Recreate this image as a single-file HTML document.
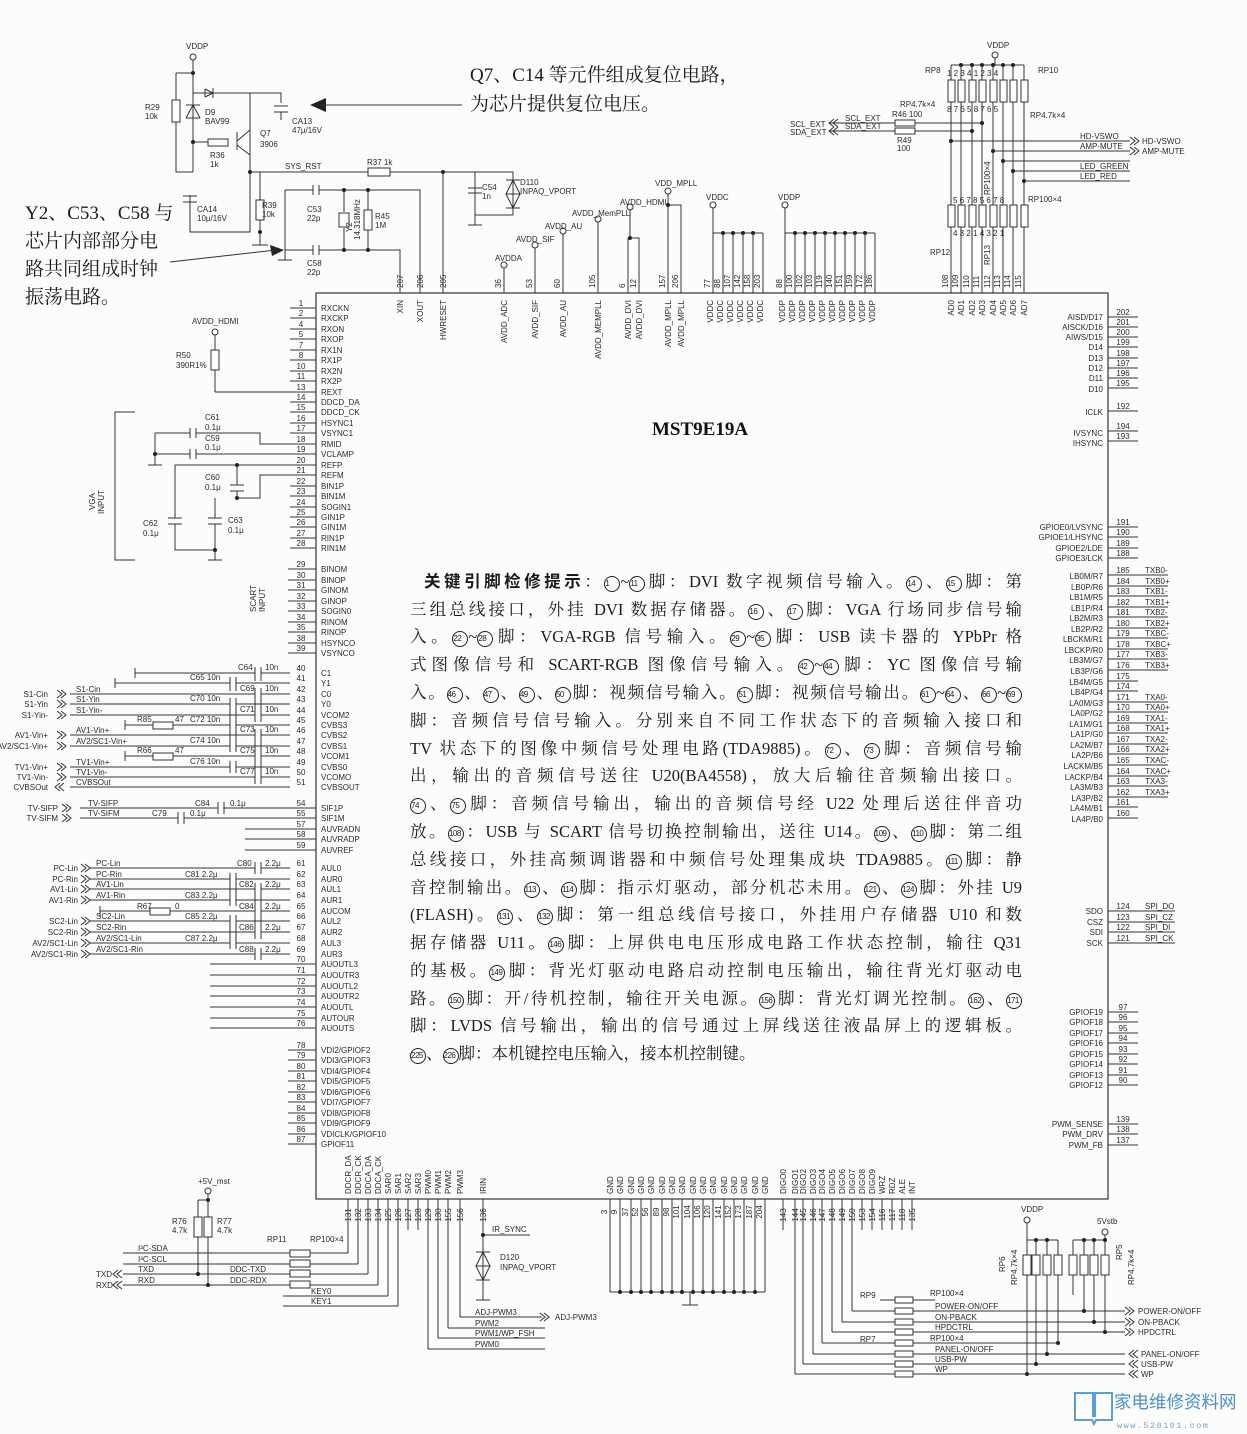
<!DOCTYPE html>
<html><head><meta charset="utf-8">
<style>
html,body{margin:0;padding:0;background:#fcfcfb;}
#w{position:relative;width:1247px;height:1434px;overflow:hidden;background:#fcfcfb;}
svg{position:absolute;left:0;top:0;}
svg text{font-family:"Liberation Sans Narrow","Liberation Sans",sans-serif;font-size:8px;fill:#2a2a2a;}
.p{font-size:8.5px;}
.ln{stroke:#333;stroke-width:1;fill:none;}
.bx{stroke:#333;stroke-width:1;fill:#fcfcfb;}
.dot{fill:#222;}
.para{position:absolute;left:410px;width:612px;font-family:"Liberation Serif","Noto Serif CJK SC",serif;font-size:16.5px;line-height:20px;height:20px;color:#1a1a1a;text-align:justify;text-align-last:justify;white-space:nowrap;}
.para.last{text-align-last:left;}
.c{display:inline-block;width:14px;height:14px;border:1px solid #222;border-radius:50%;font-size:8px;line-height:14px;text-align:center;font-family:"Liberation Sans Narrow","Liberation Sans",sans-serif;vertical-align:1px;letter-spacing:-0.5px;}
.cn{position:absolute;font-family:"Liberation Serif","Noto Serif CJK SC",serif;font-size:19px;color:#1a1a1a;line-height:28px;}
.title{position:absolute;left:652px;top:419px;font-family:"Liberation Serif",serif;font-weight:bold;font-size:19px;color:#111;}
</style></head><body><div id="w">
<svg width="1247" height="1434" viewBox="0 0 1247 1434">
<rect x="316" y="293" width="792" height="906" fill="none" stroke="#333" stroke-width="1.2"/>

<text x="186" y="49">VDDP</text>
<circle cx="193" cy="57" r="3" class="bx"/>
<path class="ln" d="M193 60V172 M176 73H193 M176 73V172H193 M193 93H250V172 M250 93H281V103 M193 142H228 M250 172V232H190V195 M250 172H443 M260 172V245 M252 245H268 M443 172V293"/>
<circle cx="193" cy="73" r="2" class="dot"/><circle cx="193" cy="142" r="2" class="dot"/><circle cx="250" cy="172" r="2" class="dot"/><circle cx="260" cy="232" r="2" class="dot"/><circle cx="443" cy="172" r="2" class="dot"/>
<rect x="172" y="100" width="8" height="22" class="bx"/>
<path class="ln" d="M186 118H200 M193 105L186 118 M193 105L200 118 M186 105H200"/>
<path class="ln" d="M205 89V97 M205 89L213 93L205 97"/><path class="ln" d="M213 88V98"/>
<rect x="208" y="139" width="20" height="7" class="bx"/>
<path class="ln" d="M237 132V150 M237 141L250 130 M237 145L250 155 M274 106H288 M274 112H288"/>
<path class="ln" d="M281 112V120 M183 196H197 M183 202H197 M190 202V206"/>
<rect x="256" y="200" width="8" height="20" class="bx"/>
<rect x="368" y="168" width="22" height="8" class="bx"/>
<text x="145" y="110">R29</text><text x="145" y="119">10k</text>
<text x="205" y="115">D9</text><text x="205" y="124">BAV99</text>
<text x="260" y="136">Q7</text><text x="260" y="147">3906</text>
<text x="292" y="124">CA13</text><text x="292" y="133">47μ/16V</text>
<text x="210" y="158">R36</text><text x="210" y="167">1k</text>
<text x="285" y="169">SYS_RST</text><text x="367" y="165">R37 1k</text>
<text x="197" y="212">CA14</text><text x="197" y="221">10μ/16V</text>
<text x="262" y="208">R39</text><text x="262" y="217">10k</text>
<path class="ln" d="M285 190H313 M319 190H420V293 M285 190V260 M278 260H292 M285 250H313 M319 250H400V293 M313 185V195 M319 185V195 M313 245V255 M319 245V255 M344 190V212 M344 228V250 M368 190V210 M368 230V250"/>
<rect x="339" y="213" width="10" height="14" class="bx"/>
<rect x="364" y="210" width="8" height="20" class="bx"/>
<circle cx="344" cy="190" r="2" class="dot"/><circle cx="368" cy="190" r="2" class="dot"/><circle cx="344" cy="250" r="2" class="dot"/><circle cx="368" cy="250" r="2" class="dot"/>
<text x="307" y="212">C53</text><text x="307" y="221">22p</text>
<text x="307" y="266">C58</text><text x="307" y="275">22p</text>
<text transform="translate(360,240) rotate(-90)">14.318MHz</text><text transform="translate(352,232) rotate(-90)">Y2</text>
<text x="375" y="219">R45</text><text x="375" y="228">1M</text>
<path class="ln" d="M443 172H513V215 M475 172V205 M468 188H482 M468 193H482 M475 215H513 M475 205V225 M468 225H482"/>
<path class="ln" d="M506 180H520 M513 180L506 194L520 194Z M506 208H520 M513 208L506 194 M513 208L520 194"/>
<text x="482" y="190">C54</text><text x="482" y="199">1n</text>
<text x="520" y="185">D110</text><text x="520" y="194">INPAQ_VPORT</text>
<path d="M310 105L326 98V112Z" fill="#222"/><path class="ln" d="M320 105H462" stroke-width="1.4"/>
<path d="M284 250L270 245L272 256Z" fill="#222"/><path class="ln" d="M170 262L276 250" stroke-width="1.4"/>

<g class="ln">
<path d="M504 268V293 M535 248V293 M563 234V293 M598 222V293 M630 210V238 M628 238H639V293 M628 238V293 M668 194V293 M668 205H681V293"/>
<path d="M713 208V233 M713 233H763 M713 233V293 M723 233V293 M733 233V293 M743 233V293 M753 233V293 M763 233V293"/>
<path d="M785 208V233 M785 233H875 M785 233V293 M795 233V293 M805 233V293 M815 233V293 M825 233V293 M835 233V293 M845 233V293 M855 233V293 M865 233V293 M875 233V293"/>
</g>
<g class="bx"><circle cx="504" cy="265" r="3"/><circle cx="535" cy="245" r="3"/><circle cx="563" cy="231" r="3"/><circle cx="598" cy="219" r="3"/><circle cx="630" cy="207" r="3"/><circle cx="668" cy="191" r="3"/><circle cx="713" cy="205" r="3"/><circle cx="785" cy="205" r="3"/></g>
<g class="dot"><circle cx="630" cy="238" r="2"/><circle cx="668" cy="205" r="2"/><circle cx="723" cy="233" r="2"/><circle cx="733" cy="233" r="2"/><circle cx="743" cy="233" r="2"/><circle cx="753" cy="233" r="2"/><circle cx="795" cy="233" r="2"/><circle cx="805" cy="233" r="2"/><circle cx="815" cy="233" r="2"/><circle cx="825" cy="233" r="2"/><circle cx="835" cy="233" r="2"/><circle cx="845" cy="233" r="2"/><circle cx="855" cy="233" r="2"/><circle cx="865" cy="233" r="2"/></g>
<text x="495" y="261">AVDDA</text><text x="516" y="242">AVDD_SIF</text><text x="545" y="229">AVDD_AU</text><text x="572" y="216">AVDD_MemPLL</text><text x="620" y="205">AVDD_HDMI</text><text x="655" y="186">VDD_MPLL</text>
<text x="706" y="200">VDDC</text><text x="778" y="200">VDDP</text>
<g>
<text transform="translate(403,288) rotate(-90)">207</text><text transform="translate(423,288) rotate(-90)">206</text><text transform="translate(446,288) rotate(-90)">205</text>
<text transform="translate(501,288) rotate(-90)">36</text><text transform="translate(532,288) rotate(-90)">53</text><text transform="translate(560,288) rotate(-90)">60</text><text transform="translate(595,288) rotate(-90)">105</text><text transform="translate(625,288) rotate(-90)">6</text><text transform="translate(636,288) rotate(-90)">12</text><text transform="translate(665,288) rotate(-90)">157</text><text transform="translate(678,288) rotate(-90)">206</text>
<text transform="translate(710,288) rotate(-90)">77</text><text transform="translate(720,288) rotate(-90)">88</text><text transform="translate(730,288) rotate(-90)">107</text><text transform="translate(740,288) rotate(-90)">142</text><text transform="translate(750,288) rotate(-90)">158</text><text transform="translate(760,288) rotate(-90)">203</text>
<text transform="translate(782,288) rotate(-90)">88</text><text transform="translate(792,288) rotate(-90)">100</text><text transform="translate(802,288) rotate(-90)">102</text><text transform="translate(812,288) rotate(-90)">103</text><text transform="translate(822,288) rotate(-90)">119</text><text transform="translate(832,288) rotate(-90)">140</text><text transform="translate(842,288) rotate(-90)">151</text><text transform="translate(852,288) rotate(-90)">159</text><text transform="translate(862,288) rotate(-90)">172</text><text transform="translate(872,288) rotate(-90)">186</text>
<text transform="translate(948,288) rotate(-90)">108</text><text transform="translate(958,288) rotate(-90)">109</text><text transform="translate(969,288) rotate(-90)">110</text><text transform="translate(979,288) rotate(-90)">111</text><text transform="translate(990,288) rotate(-90)">112</text><text transform="translate(1000,288) rotate(-90)">113</text><text transform="translate(1010,288) rotate(-90)">114</text><text transform="translate(1021,288) rotate(-90)">115</text>
</g>
<g text-anchor="end">
<text transform="translate(403,300) rotate(-90)">XIN</text><text transform="translate(423,300) rotate(-90)">XOUT</text><text transform="translate(446,300) rotate(-90)">HWRESET</text>
<text transform="translate(507,300) rotate(-90)">AVDD_ADC</text><text transform="translate(538,300) rotate(-90)">AVDD_SIF</text><text transform="translate(566,300) rotate(-90)">AVDD_AU</text><text transform="translate(601,300) rotate(-90)">AVDD_MEMPLL</text><text transform="translate(631,300) rotate(-90)">AVDD_DVI</text><text transform="translate(642,300) rotate(-90)">AVDD_DVI</text><text transform="translate(671,300) rotate(-90)">AVDD_MPLL</text><text transform="translate(684,300) rotate(-90)">AVDD_MPLL</text>
<text transform="translate(713,300) rotate(-90)">VDDC</text><text transform="translate(723,300) rotate(-90)">VDDC</text><text transform="translate(733,300) rotate(-90)">VDDC</text><text transform="translate(743,300) rotate(-90)">VDDC</text><text transform="translate(753,300) rotate(-90)">VDDC</text><text transform="translate(763,300) rotate(-90)">VDDC</text>
<text transform="translate(785,300) rotate(-90)">VDDP</text><text transform="translate(795,300) rotate(-90)">VDDP</text><text transform="translate(805,300) rotate(-90)">VDDP</text><text transform="translate(815,300) rotate(-90)">VDDP</text><text transform="translate(825,300) rotate(-90)">VDDP</text><text transform="translate(835,300) rotate(-90)">VDDP</text><text transform="translate(845,300) rotate(-90)">VDDP</text><text transform="translate(855,300) rotate(-90)">VDDP</text><text transform="translate(865,300) rotate(-90)">VDDP</text><text transform="translate(875,300) rotate(-90)">VDDP</text>
<text transform="translate(954,300) rotate(-90)">AD0</text><text transform="translate(964,300) rotate(-90)">AD1</text><text transform="translate(975,300) rotate(-90)">AD2</text><text transform="translate(985,300) rotate(-90)">AD3</text><text transform="translate(996,300) rotate(-90)">AD4</text><text transform="translate(1006,300) rotate(-90)">AD5</text><text transform="translate(1016,300) rotate(-90)">AD6</text><text transform="translate(1027,300) rotate(-90)">AD7</text>
</g>

<text x="987" y="48">VDDP</text><circle cx="995" cy="55" r="3" class="bx"/>
<path class="ln" d="M995 58V65 M951 65H1024 M951 65V293 M961 65V293 M972 65V293 M982 65V293 M993 65V293 M1003 65V293 M1013 65V293 M1024 65V293"/>
<g class="dot"><circle cx="961" cy="65" r="2"/><circle cx="972" cy="65" r="2"/><circle cx="982" cy="65" r="2"/><circle cx="993" cy="65" r="2"/><circle cx="1003" cy="65" r="2"/><circle cx="1013" cy="65" r="2"/></g>
<g class="bx">
<rect x="948" y="80" width="7" height="22"/><rect x="958" y="80" width="7" height="22"/><rect x="969" y="80" width="7" height="22"/><rect x="979" y="80" width="7" height="22"/><rect x="990" y="80" width="7" height="22"/><rect x="1000" y="80" width="7" height="22"/><rect x="1010" y="80" width="7" height="22"/><rect x="1021" y="80" width="7" height="22"/>
<rect x="948" y="205" width="7" height="22"/><rect x="958" y="205" width="7" height="22"/><rect x="969" y="205" width="7" height="22"/><rect x="979" y="205" width="7" height="22"/><rect x="990" y="205" width="7" height="22"/><rect x="1000" y="205" width="7" height="22"/><rect x="1010" y="205" width="7" height="22"/><rect x="1021" y="205" width="7" height="22"/>
</g>
<text x="925" y="73">RP8</text><text x="1038" y="73">RP10</text>
<text x="900" y="107" font-size="7">RP4.7k×4</text><text x="1030" y="118" font-size="7">RP4.7k×4</text>
<text x="1028" y="202" font-size="7">RP100×4</text><text x="930" y="255">RP12</text>
<text transform="translate(990,195) rotate(-90)" font-size="7">RP100×4</text>
<text transform="translate(990,265) rotate(-90)" font-size="7">RP13</text>
<text x="947" y="76" font-size="6.5">1 2 3 4   1 2 3 4</text><text x="947" y="112" font-size="6.5">8 7 6 5   8 7 6 5</text>
<text x="953" y="203" font-size="6.5">5 6 7 8  5 6 7 8</text><text x="953" y="236" font-size="6.5">4 3 2 1  4 3 2 1</text>
<path class="ln" d="M830 123H982 M830 131H972 M951 141H1130 M993 151H1130 M1003 161H1130 M1013 171H1130 M1024 181H1130"/>
<g class="dot"><circle cx="982" cy="123" r="2"/><circle cx="972" cy="131" r="2"/><circle cx="951" cy="141" r="2"/><circle cx="993" cy="151" r="2"/><circle cx="1003" cy="161" r="2"/><circle cx="1013" cy="171" r="2"/><circle cx="1024" cy="181" r="2"/></g>
<rect x="895" y="120" width="20" height="6" class="bx"/><rect x="895" y="128" width="20" height="6" class="bx"/>
<text x="892" y="117">R46 100</text><text x="897" y="143">R49</text><text x="897" y="151">100</text>
<text x="845" y="121">SCL_EXT</text><text x="845" y="129">SDA_EXT</text>
<text x="790" y="127">SCL_EXT</text><text x="790" y="135">SDA_EXT</text>
<path class="ln" d="M834 119L829 123L834 127 M838 119L833 123L838 127 M834 127L829 131L834 135 M838 127L833 131L838 135"/>
<text x="1080" y="139">HD-VSWO</text><text x="1080" y="149">AMP-MUTE</text><text x="1080" y="169">LED_GREEN</text><text x="1080" y="179">LED_RED</text>
<path class="ln" d="M1130 137L1135 141L1130 145 M1134 137L1139 141L1134 145 M1130 147L1135 151L1130 155 M1134 147L1139 151L1134 155"/>
<text x="1142" y="144">HD-VSWO</text><text x="1142" y="154">AMP-MUTE</text>

<g class="ln">
<path d="M290 308H316 M290 318H316 M290 329H316 M290 339H316 M290 350H316 M290 360H316 M290 371H316 M290 381H316 M215 392H316 M290 402H316 M290 412H316 M290 423H316 M290 433H316 M290 444H316 M290 454H316 M290 465H316 M290 475H316 M290 486H316 M290 496H316 M290 507H316 M290 517H316 M290 527H316 M290 538H316 M290 548H316"/>
<path d="M288 569H316 M288 580H316 M288 590H316 M288 601H316 M288 611H316 M288 622H316 M288 632H316 M288 643H316 M288 653H316"/>
<path d="M288 808H316 M288 818H316 M245 829H316 M245 839H316 M245 850H316"/>
<path d="M210 964H316 M210 975H316 M210 986H316 M210 996H316 M210 1007H316 M210 1018H316 M210 1028H316"/>
<path d="M288 1050H316 M288 1060H316 M288 1071H316 M288 1081H316 M288 1092H316 M288 1102H316 M288 1113H316 M288 1123H316 M288 1134H316 M288 1144H316"/>
</g>
<g text-anchor="middle">
<text x="301" y="306">1</text><text x="301" y="316">2</text><text x="301" y="327">4</text><text x="301" y="337">5</text><text x="301" y="348">7</text><text x="301" y="358">8</text><text x="301" y="369">10</text><text x="301" y="379">11</text><text x="301" y="390">13</text><text x="301" y="400">14</text><text x="301" y="410">15</text><text x="301" y="421">16</text><text x="301" y="431">17</text><text x="301" y="442">18</text><text x="301" y="452">19</text><text x="301" y="463">20</text><text x="301" y="473">21</text><text x="301" y="484">22</text><text x="301" y="494">23</text><text x="301" y="505">24</text><text x="301" y="515">25</text><text x="301" y="525">26</text><text x="301" y="536">27</text><text x="301" y="546">28</text>
<text x="301" y="567">29</text><text x="301" y="578">30</text><text x="301" y="588">31</text><text x="301" y="599">32</text><text x="301" y="609">33</text><text x="301" y="620">34</text><text x="301" y="630">35</text><text x="301" y="641">38</text><text x="301" y="651">39</text>
<text x="301" y="671">40</text><text x="301" y="681">41</text><text x="301" y="692">42</text><text x="301" y="702">43</text><text x="301" y="713">44</text><text x="301" y="723">45</text><text x="301" y="733">46</text><text x="301" y="744">47</text><text x="301" y="754">48</text><text x="301" y="765">49</text><text x="301" y="775">50</text><text x="301" y="785">51</text>
<text x="301" y="806">54</text><text x="301" y="816">55</text><text x="301" y="827">57</text><text x="301" y="837">58</text><text x="301" y="848">59</text>
<text x="301" y="866">61</text><text x="301" y="877">62</text><text x="301" y="887">63</text><text x="301" y="898">64</text><text x="301" y="909">65</text><text x="301" y="919">66</text><text x="301" y="930">67</text><text x="301" y="941">68</text><text x="301" y="952">69</text><text x="301" y="962">70</text><text x="301" y="973">71</text><text x="301" y="984">72</text><text x="301" y="994">73</text><text x="301" y="1005">74</text><text x="301" y="1016">75</text><text x="301" y="1026">76</text>
<text x="301" y="1048">78</text><text x="301" y="1058">79</text><text x="301" y="1069">80</text><text x="301" y="1079">81</text><text x="301" y="1090">82</text><text x="301" y="1100">83</text><text x="301" y="1111">84</text><text x="301" y="1121">85</text><text x="301" y="1132">86</text><text x="301" y="1142">87</text>
</g>
<g class="p">
<text x="321" y="311">RXCKN</text><text x="321" y="321">RXCKP</text><text x="321" y="332">RXON</text><text x="321" y="342">RXOP</text><text x="321" y="353">RX1N</text><text x="321" y="363">RX1P</text><text x="321" y="374">RX2N</text><text x="321" y="384">RX2P</text><text x="321" y="395">REXT</text><text x="321" y="405">DDCD_DA</text><text x="321" y="415">DDCD_CK</text><text x="321" y="426">HSYNC1</text><text x="321" y="436">VSYNC1</text><text x="321" y="447">RMID</text><text x="321" y="457">VCLAMP</text><text x="321" y="468">REFP</text><text x="321" y="478">REFM</text><text x="321" y="489">BIN1P</text><text x="321" y="499">BIN1M</text><text x="321" y="510">SOGIN1</text><text x="321" y="520">GIN1P</text><text x="321" y="530">GIN1M</text><text x="321" y="541">RIN1P</text><text x="321" y="551">RIN1M</text>
<text x="321" y="572">BINOM</text><text x="321" y="583">BINOP</text><text x="321" y="593">GINOM</text><text x="321" y="604">GINOP</text><text x="321" y="614">SOGIN0</text><text x="321" y="625">RINOM</text><text x="321" y="635">RINOP</text><text x="321" y="646">HSYNCO</text><text x="321" y="656">VSYNCO</text>
<text x="321" y="676">C1</text><text x="321" y="686">Y1</text><text x="321" y="697">C0</text><text x="321" y="707">Y0</text><text x="321" y="718">VCOM2</text><text x="321" y="728">CVBS3</text><text x="321" y="738">CVBS2</text><text x="321" y="749">CVBS1</text><text x="321" y="759">VCOM1</text><text x="321" y="770">CVBS0</text><text x="321" y="780">VCOMO</text><text x="321" y="790">CVBSOUT</text>
<text x="321" y="811">SIF1P</text><text x="321" y="821">SIF1M</text><text x="321" y="832">AUVRADN</text><text x="321" y="842">AUVRADP</text><text x="321" y="853">AUVREF</text>
<text x="321" y="871">AUL0</text><text x="321" y="882">AUR0</text><text x="321" y="892">AUL1</text><text x="321" y="903">AUR1</text><text x="321" y="914">AUCOM</text><text x="321" y="924">AUL2</text><text x="321" y="935">AUR2</text><text x="321" y="946">AUL3</text><text x="321" y="957">AUR3</text><text x="321" y="967">AUOUTL3</text><text x="321" y="978">AUOUTR3</text><text x="321" y="989">AUOUTL2</text><text x="321" y="999">AUOUTR2</text><text x="321" y="1010">AUOUTL</text><text x="321" y="1021">AUTOUR</text><text x="321" y="1031">AUOUTS</text>
<text x="321" y="1053">VDI2/GPIOF2</text><text x="321" y="1063">VDI3/GPIOF3</text><text x="321" y="1074">VDI4/GPIOF4</text><text x="321" y="1084">VDI5/GPIOF5</text><text x="321" y="1095">VDI6/GPIOF6</text><text x="321" y="1105">VDI7/GPIOF7</text><text x="321" y="1116">VDI8/GPIOF8</text><text x="321" y="1126">VDI9/GPIOF9</text><text x="321" y="1137">VDICLK/GPIOF10</text><text x="321" y="1147">GPIOF11</text>
</g>

<text x="192" y="324">AVDD_HDMI</text><circle cx="215" cy="332" r="3" class="bx"/>
<path class="ln" d="M215 335V350 M215 370V392"/><rect x="211" y="350" width="8" height="20" class="bx"/>
<text x="176" y="358">R50</text><text x="176" y="368">390R1%</text>
<path class="ln" d="M135 412H115V560H135 M155 433H190 M196 433H260V444H290 M155 433V465 M148 465H162 M155 454H190 M196 454H290 M190 428V438 M196 428V438 M190 449V459 M196 449V459"/>
<circle cx="155" cy="454" r="2" class="dot"/>
<path class="ln" d="M175 465H290 M175 465V518 M168 518H182 M168 524H182 M175 524V550H215 M237 465V485 M230 485H244 M230 491H244 M237 491V498 M237 498H260V475H290 M215 498V518 M208 518H222 M208 524H222 M215 524V560 M208 560H222"/>
<circle cx="237" cy="465" r="2" class="dot"/><circle cx="237" cy="498" r="2" class="dot"/><circle cx="215" cy="550" r="2" class="dot"/>
<text x="205" y="420">C61</text><text x="205" y="430">0.1μ</text><text x="205" y="441">C59</text><text x="205" y="450">0.1μ</text>
<text x="205" y="480">C60</text><text x="205" y="490">0.1μ</text><text x="143" y="526">C62</text><text x="143" y="536">0.1μ</text><text x="228" y="523">C63</text><text x="228" y="533">0.1μ</text>
<text transform="translate(95,510) rotate(-90)">VGA</text><text transform="translate(104,514) rotate(-90)">INPUT</text>
<text transform="translate(256,612) rotate(-90)">SCART</text><text transform="translate(265,612) rotate(-90)">INPUT</text>

<g class="ln">
<path d="M135 668V678 M135 673H255 M261 673H290 M115 678V688 M115 683H230 M236 683H290"/>
<path d="M70 694H255 M261 694H290 M70 704H230 M236 704H290 M70 715H255 M261 715H290 M125 720V730 M125 725H153 M173 725H230 M236 725H290 M70 735H255 M261 735H290 M70 746H230 M236 746H290 M125 751V761 M125 756H153 M173 756H255 M261 756H290 M70 767H230 M236 767H290 M70 777H255 M261 777H290 M70 787H290"/>
<path d="M80 808H218 M224 808H290 M80 818H178 M184 818H290"/>
<path d="M90 868H255 M261 868H290 M90 879H230 M236 879H290 M90 889H255 M261 889H290 M90 900H230 M236 900H290 M100 906V916 M100 911H150 M170 911H255 M261 911H290 M90 921H230 M236 921H290 M90 932H255 M261 932H290 M90 943H230 M236 943H290 M90 954H255 M261 954H290"/>
<path d="M255 667V681 M261 667V681 M230 677V691 M236 677V691 M255 688V722 M261 688V722 M230 698V752 M236 698V752 M255 729V784 M261 729V784 M230 761V773 M236 761V773 M218 802V814 M224 802V814 M178 812V824 M184 812V824"/>
<path d="M255 862V874 M261 862V874 M230 873V906 M236 873V906 M255 883V939 M261 883V939 M230 915V949 M236 915V949 M255 948V960 M261 948V960"/>
</g>
<rect x="153" y="722" width="20" height="7" class="bx"/><rect x="153" y="753" width="20" height="7" class="bx"/><rect x="150" y="908" width="20" height="7" class="bx"/>
<g font-size="7.5">
<text x="238" y="670">C64</text><text x="265" y="670">10n</text><text x="190" y="680">C65 10n</text><text x="240" y="691">C69</text><text x="265" y="691">10n</text><text x="190" y="701">C70 10n</text><text x="240" y="712">C71</text><text x="265" y="712">10n</text>
<text x="137" y="722">R85</text><text x="175" y="722">47</text><text x="190" y="722">C72 10n</text><text x="240" y="732">C73</text><text x="265" y="732">10n</text><text x="190" y="743">C74 10n</text>
<text x="137" y="753">R66</text><text x="175" y="753">47</text><text x="240" y="753">C75</text><text x="265" y="753">10n</text><text x="190" y="764">C76 10n</text><text x="240" y="774">C77</text><text x="265" y="774">10n</text>
<text x="76" y="692">S1-Cin</text><text x="76" y="702">S1-Yin</text><text x="76" y="713">S1-Yin-</text><text x="76" y="733">AV1-Vin+</text><text x="76" y="744">AV2/SC1-Vin+</text><text x="76" y="765">TV1-Vin+</text><text x="76" y="775">TV1-Vin-</text><text x="76" y="785">CVBSOut</text>
<text x="88" y="806">TV-SIFP</text><text x="88" y="816">TV-SIFM</text><text x="195" y="806">C84</text><text x="230" y="806">0.1μ</text><text x="152" y="816">C79</text><text x="190" y="816">0.1μ</text>
<text x="96" y="866">PC-Lin</text><text x="96" y="877">PC-Rin</text><text x="96" y="887">AV1-Lin</text><text x="96" y="898">AV1-Rin</text><text x="96" y="919">SC2-Lin</text><text x="96" y="930">SC2-Rin</text><text x="96" y="941">AV2/SC1-Lin</text><text x="96" y="952">AV2/SC1-Rin</text>
<text x="237" y="866">C80</text><text x="265" y="866">2.2μ</text><text x="185" y="877">C81 2.2μ</text><text x="239" y="887">C82</text><text x="265" y="887">2.2μ</text><text x="185" y="898">C83 2.2μ</text><text x="137" y="909">R67</text><text x="175" y="909">0</text><text x="239" y="909">C84</text><text x="265" y="909">2.2μ</text><text x="185" y="919">C85 2.2μ</text><text x="239" y="930">C86</text><text x="265" y="930">2.2μ</text><text x="185" y="941">C87 2.2μ</text><text x="239" y="952">C88</text><text x="265" y="952">2.2μ</text>
</g>
<g font-size="7.5" text-anchor="end">
<text x="48" y="697">S1-Cin</text><text x="48" y="707">S1-Yin</text><text x="48" y="718">S1-Yin-</text><text x="48" y="738">AV1-Vin+</text><text x="48" y="749">AV2/SC1-Vin+</text><text x="48" y="770">TV1-Vin+</text><text x="48" y="780">TV1-Vin-</text><text x="48" y="790">CVBSOut</text>
<text x="58" y="811">TV-SIFP</text><text x="58" y="821">TV-SIFM</text>
<text x="78" y="871">PC-Lin</text><text x="78" y="882">PC-Rin</text><text x="78" y="892">AV1-Lin</text><text x="78" y="903">AV1-Rin</text><text x="78" y="924">SC2-Lin</text><text x="78" y="935">SC2-Rin</text><text x="78" y="946">AV2/SC1-Lin</text><text x="78" y="957">AV2/SC1-Rin</text>
</g>
<g class="ln" stroke-width="0.8">
<path d="M57 690L62 694L57 698 M61 690L66 694L61 698 M57 700L62 704L57 708 M61 700L66 704L61 708 M57 711L62 715L57 719 M61 711L66 715L61 719 M57 731L62 735L57 739 M61 731L66 735L61 739 M57 742L62 746L57 750 M61 742L66 746L61 750 M57 763L62 767L57 771 M61 763L66 767L61 771 M57 773L62 777L57 781 M61 773L66 777L61 781 M60 783L55 787L60 791 M64 783L59 787L64 791"/>
<path d="M62 804L67 808L62 812 M66 804L71 808L66 812 M62 814L67 818L62 822 M66 814L71 818L66 822"/>
<path d="M81 864L86 868L81 872 M85 864L90 868L85 872 M81 875L86 879L81 883 M85 875L90 879L85 883 M81 885L86 889L81 893 M85 885L90 889L85 893 M81 896L86 900L81 904 M85 896L90 900L85 904 M81 917L86 921L81 925 M85 917L90 921L85 925 M81 928L86 932L81 936 M85 928L90 932L85 936 M81 939L86 943L81 947 M85 939L90 943L85 947 M81 950L86 954L81 958 M85 950L90 954L85 958"/>
</g>

<g class="ln">
<path d="M1108 317H1138 M1108 327H1138 M1108 337H1138 M1108 347H1138 M1108 358H1138 M1108 368H1138 M1108 378H1138 M1108 388H1138 M1108 411H1138 M1108 431H1138 M1108 441H1138 M1108 527H1138 M1108 537H1138 M1108 548H1138 M1108 558H1138"/>
<path d="M1108 575H1168 M1108 586H1168 M1108 596H1168 M1108 607H1168 M1108 617H1168 M1108 628H1168 M1108 638H1168 M1108 649H1168 M1108 659H1168 M1108 670H1168 M1108 681H1138 M1108 691H1138 M1108 702H1168 M1108 712H1168 M1108 723H1168 M1108 733H1168 M1108 744H1168 M1108 754H1168 M1108 765H1168 M1108 776H1168 M1108 786H1168 M1108 797H1168 M1108 807H1138 M1108 818H1138"/>
<path d="M1108 911H1175 M1108 922H1175 M1108 932H1175 M1108 943H1175 M1108 1012H1138 M1108 1022H1138 M1108 1033H1138 M1108 1043H1138 M1108 1054H1138 M1108 1064H1138 M1108 1075H1138 M1108 1085H1138 M1108 1124H1138 M1108 1134H1138 M1108 1145H1138"/>
</g>
<g text-anchor="middle">
<text x="1123" y="315">202</text><text x="1123" y="325">201</text><text x="1123" y="335">200</text><text x="1123" y="345">199</text><text x="1123" y="356">198</text><text x="1123" y="366">197</text><text x="1123" y="376">196</text><text x="1123" y="386">195</text><text x="1123" y="409">192</text><text x="1123" y="429">194</text><text x="1123" y="439">193</text><text x="1123" y="525">191</text><text x="1123" y="535">190</text><text x="1123" y="546">189</text><text x="1123" y="556">188</text>
<text x="1123" y="573">185</text><text x="1123" y="584">184</text><text x="1123" y="594">183</text><text x="1123" y="605">182</text><text x="1123" y="615">181</text><text x="1123" y="626">180</text><text x="1123" y="636">179</text><text x="1123" y="647">178</text><text x="1123" y="657">177</text><text x="1123" y="668">176</text><text x="1123" y="679">175</text><text x="1123" y="689">174</text><text x="1123" y="700">171</text><text x="1123" y="710">170</text><text x="1123" y="721">169</text><text x="1123" y="731">168</text><text x="1123" y="742">167</text><text x="1123" y="752">166</text><text x="1123" y="763">165</text><text x="1123" y="774">164</text><text x="1123" y="784">163</text><text x="1123" y="795">162</text><text x="1123" y="805">161</text><text x="1123" y="816">160</text>
<text x="1123" y="909">124</text><text x="1123" y="920">123</text><text x="1123" y="930">122</text><text x="1123" y="941">121</text>
<text x="1123" y="1010">97</text><text x="1123" y="1020">96</text><text x="1123" y="1031">95</text><text x="1123" y="1041">94</text><text x="1123" y="1052">93</text><text x="1123" y="1062">92</text><text x="1123" y="1073">91</text><text x="1123" y="1083">90</text>
<text x="1123" y="1122">139</text><text x="1123" y="1132">138</text><text x="1123" y="1143">137</text>
</g>
<g text-anchor="end" class="p">
<text x="1103" y="320">AISD/D17</text><text x="1103" y="330">AISCK/D16</text><text x="1103" y="340">AIWS/D15</text><text x="1103" y="350">D14</text><text x="1103" y="361">D13</text><text x="1103" y="371">D12</text><text x="1103" y="381">D11</text><text x="1103" y="392">D10</text><text x="1103" y="415">ICLK</text><text x="1103" y="436">IVSYNC</text><text x="1103" y="446">IHSYNC</text>
<text x="1103" y="530">GPIOE0/LVSYNC</text><text x="1103" y="540">GPIOE1/LHSYNC</text><text x="1103" y="551">GPIOE2/LDE</text><text x="1103" y="561">GPIOE3/LCK</text>
<text x="1103" y="579">LB0M/R7</text><text x="1103" y="590">LB0P/R6</text><text x="1103" y="600">LB1M/R5</text><text x="1103" y="611">LB1P/R4</text><text x="1103" y="621">LB2M/R3</text><text x="1103" y="632">LB2P/R2</text><text x="1103" y="642">LBCKM/R1</text><text x="1103" y="653">LBCKP/R0</text><text x="1103" y="663">LB3M/G7</text><text x="1103" y="674">LB3P/G6</text><text x="1103" y="685">LB4M/G5</text><text x="1103" y="695">LB4P/G4</text><text x="1103" y="706">LA0M/G3</text><text x="1103" y="716">LA0P/G2</text><text x="1103" y="727">LA1M/G1</text><text x="1103" y="737">LA1P/G0</text><text x="1103" y="748">LA2M/B7</text><text x="1103" y="758">LA2P/B6</text><text x="1103" y="769">LACKM/B5</text><text x="1103" y="780">LACKP/B4</text><text x="1103" y="790">LA3M/B3</text><text x="1103" y="801">LA3P/B2</text><text x="1103" y="811">LA4M/B1</text><text x="1103" y="822">LA4P/B0</text>
<text x="1103" y="914">SDO</text><text x="1103" y="925">CSZ</text><text x="1103" y="935">SDI</text><text x="1103" y="946">SCK</text>
<text x="1103" y="1015">GPIOF19</text><text x="1103" y="1025">GPIOF18</text><text x="1103" y="1036">GPIOF17</text><text x="1103" y="1046">GPIOF16</text><text x="1103" y="1057">GPIOF15</text><text x="1103" y="1067">GPIOF14</text><text x="1103" y="1078">GPIOF13</text><text x="1103" y="1088">GPIOF12</text>
<text x="1103" y="1127">PWM_SENSE</text><text x="1103" y="1137">PWM_DRV</text><text x="1103" y="1148">PWM_FB</text>
</g>
<g>
<text x="1145" y="573">TXB0-</text><text x="1145" y="584">TXB0+</text><text x="1145" y="594">TXB1-</text><text x="1145" y="605">TXB1+</text><text x="1145" y="615">TXB2-</text><text x="1145" y="626">TXB2+</text><text x="1145" y="636">TXBC-</text><text x="1145" y="647">TXBC+</text><text x="1145" y="657">TXB3-</text><text x="1145" y="668">TXB3+</text>
<text x="1145" y="700">TXA0-</text><text x="1145" y="710">TXA0+</text><text x="1145" y="721">TXA1-</text><text x="1145" y="731">TXA1+</text><text x="1145" y="742">TXA2-</text><text x="1145" y="752">TXA2+</text><text x="1145" y="763">TXAC-</text><text x="1145" y="774">TXAC+</text><text x="1145" y="784">TXA3-</text><text x="1145" y="795">TXA3+</text>
<text x="1145" y="909">SPI_DO</text><text x="1145" y="920">SPI_CZ</text><text x="1145" y="930">SPI_DI</text><text x="1145" y="941">SPI_CK</text>
</g>

<g class="ln">
<path d="M348 1199V1253 M358 1199V1264 M368 1199V1274 M378 1199V1285 M388 1199V1296 M398 1199V1306 M408 1199V1230 M418 1199V1230 M428 1199V1349 M438 1199V1338 M448 1199V1328 M460 1199V1317 M483 1199V1300"/>
<path d="M610 1199V1292 M620 1199V1292 M631 1199V1292 M641 1199V1292 M651 1199V1292 M662 1199V1292 M672 1199V1292 M682 1199V1292 M693 1199V1292 M703 1199V1292 M713 1199V1292 M724 1199V1292 M734 1199V1292 M744 1199V1292 M755 1199V1292 M765 1199V1292 M610 1292H765 M690 1292V1305 M682 1305H698"/>
<path d="M783 1199V1230 M795 1199V1374 M803 1199V1364 M813 1199V1354 M822 1199V1343 M832 1199V1332 M842 1199V1322 M852 1199V1311 M862 1199V1230 M872 1199V1230 M882 1199V1230 M892 1199V1230 M902 1199V1230 M912 1199V1230"/>
</g>
<g class="dot"><circle cx="620" cy="1292" r="2"/><circle cx="631" cy="1292" r="2"/><circle cx="641" cy="1292" r="2"/><circle cx="651" cy="1292" r="2"/><circle cx="662" cy="1292" r="2"/><circle cx="672" cy="1292" r="2"/><circle cx="682" cy="1292" r="2"/><circle cx="693" cy="1292" r="2"/><circle cx="703" cy="1292" r="2"/><circle cx="713" cy="1292" r="2"/><circle cx="724" cy="1292" r="2"/><circle cx="734" cy="1292" r="2"/><circle cx="744" cy="1292" r="2"/><circle cx="755" cy="1292" r="2"/></g>
<g text-anchor="middle" font-size="7.5">
<text transform="translate(351,1215) rotate(-90)">131</text><text transform="translate(361,1215) rotate(-90)">132</text><text transform="translate(371,1215) rotate(-90)">133</text><text transform="translate(381,1215) rotate(-90)">134</text><text transform="translate(391,1215) rotate(-90)">125</text><text transform="translate(401,1215) rotate(-90)">126</text><text transform="translate(411,1215) rotate(-90)">127</text><text transform="translate(421,1215) rotate(-90)">128</text><text transform="translate(431,1215) rotate(-90)">129</text><text transform="translate(441,1215) rotate(-90)">130</text><text transform="translate(451,1215) rotate(-90)">155</text><text transform="translate(463,1215) rotate(-90)">156</text><text transform="translate(486,1215) rotate(-90)">136</text>
<text transform="translate(607,1212) rotate(-90)">3</text><text transform="translate(617,1212) rotate(-90)">9</text><text transform="translate(628,1212) rotate(-90)">37</text><text transform="translate(638,1212) rotate(-90)">52</text><text transform="translate(648,1212) rotate(-90)">56</text><text transform="translate(659,1212) rotate(-90)">89</text><text transform="translate(669,1212) rotate(-90)">98</text><text transform="translate(679,1212) rotate(-90)">101</text><text transform="translate(690,1212) rotate(-90)">104</text><text transform="translate(700,1212) rotate(-90)">106</text><text transform="translate(710,1212) rotate(-90)">120</text><text transform="translate(721,1212) rotate(-90)">141</text><text transform="translate(731,1212) rotate(-90)">152</text><text transform="translate(741,1212) rotate(-90)">173</text><text transform="translate(752,1212) rotate(-90)">187</text><text transform="translate(762,1212) rotate(-90)">204</text>
<text transform="translate(786,1215) rotate(-90)">143</text><text transform="translate(798,1215) rotate(-90)">144</text><text transform="translate(806,1215) rotate(-90)">145</text><text transform="translate(816,1215) rotate(-90)">146</text><text transform="translate(825,1215) rotate(-90)">147</text><text transform="translate(835,1215) rotate(-90)">148</text><text transform="translate(845,1215) rotate(-90)">149</text><text transform="translate(855,1215) rotate(-90)">150</text><text transform="translate(865,1215) rotate(-90)">153</text><text transform="translate(875,1215) rotate(-90)">154</text><text transform="translate(885,1215) rotate(-90)">116</text><text transform="translate(895,1215) rotate(-90)">117</text><text transform="translate(905,1215) rotate(-90)">118</text><text transform="translate(915,1215) rotate(-90)">135</text>
</g>
<g font-size="7.5">
<text transform="translate(351,1194) rotate(-90)">DDCR_DA</text><text transform="translate(361,1194) rotate(-90)">DDCR_CK</text><text transform="translate(371,1194) rotate(-90)">DDCA_DA</text><text transform="translate(381,1194) rotate(-90)">DDCA_CK</text><text transform="translate(391,1194) rotate(-90)">SAR0</text><text transform="translate(401,1194) rotate(-90)">SAR1</text><text transform="translate(411,1194) rotate(-90)">SAR2</text><text transform="translate(421,1194) rotate(-90)">SAR3</text><text transform="translate(431,1194) rotate(-90)">PWM0</text><text transform="translate(441,1194) rotate(-90)">PWM1</text><text transform="translate(451,1194) rotate(-90)">PWM2</text><text transform="translate(463,1194) rotate(-90)">PWM3</text><text transform="translate(486,1194) rotate(-90)">IRIN</text>
<text transform="translate(613,1194) rotate(-90)">GND</text><text transform="translate(623,1194) rotate(-90)">GND</text><text transform="translate(634,1194) rotate(-90)">GND</text><text transform="translate(644,1194) rotate(-90)">GND</text><text transform="translate(654,1194) rotate(-90)">GND</text><text transform="translate(665,1194) rotate(-90)">GND</text><text transform="translate(675,1194) rotate(-90)">GND</text><text transform="translate(685,1194) rotate(-90)">GND</text><text transform="translate(696,1194) rotate(-90)">GND</text><text transform="translate(706,1194) rotate(-90)">GND</text><text transform="translate(716,1194) rotate(-90)">GND</text><text transform="translate(727,1194) rotate(-90)">GND</text><text transform="translate(737,1194) rotate(-90)">GND</text><text transform="translate(747,1194) rotate(-90)">GND</text><text transform="translate(758,1194) rotate(-90)">GND</text><text transform="translate(768,1194) rotate(-90)">GND</text>
<text transform="translate(786,1194) rotate(-90)">DIGO0</text><text transform="translate(798,1194) rotate(-90)">DIGO1</text><text transform="translate(806,1194) rotate(-90)">DIGO2</text><text transform="translate(816,1194) rotate(-90)">DIGO3</text><text transform="translate(825,1194) rotate(-90)">DIGO4</text><text transform="translate(835,1194) rotate(-90)">DIGO5</text><text transform="translate(845,1194) rotate(-90)">DIGO6</text><text transform="translate(855,1194) rotate(-90)">DIGO7</text><text transform="translate(865,1194) rotate(-90)">DIGO8</text><text transform="translate(875,1194) rotate(-90)">DIGO9</text><text transform="translate(885,1194) rotate(-90)">WRZ</text><text transform="translate(895,1194) rotate(-90)">RDZ</text><text transform="translate(905,1194) rotate(-90)">ALE</text><text transform="translate(915,1194) rotate(-90)">INT</text>
</g>

<text x="198" y="1184">+5V_mst</text><circle cx="208" cy="1191" r="3" class="bx"/>
<path class="ln" d="M208 1194V1200 M198 1200H208 M198 1200V1274 M208 1200V1285 M123 1253H290 M310 1253H348 M123 1264H290 M310 1264H358 M123 1274H290 M310 1274H368 M123 1285H290 M310 1285H378 M283 1296H388 M283 1306H398"/>
<rect x="194" y="1217" width="8" height="20" class="bx"/><rect x="204" y="1217" width="8" height="20" class="bx"/>
<g class="bx"><rect x="290" y="1250" width="20" height="7"/><rect x="290" y="1260" width="20" height="7"/><rect x="290" y="1270" width="20" height="7"/><rect x="290" y="1281" width="20" height="7"/></g>
<circle cx="198" cy="1274" r="2" class="dot"/><circle cx="208" cy="1285" r="2" class="dot"/><circle cx="208" cy="1200" r="2" class="dot"/>
<text x="172" y="1224">R76</text><text x="172" y="1233">4.7k</text><text x="217" y="1224">R77</text><text x="217" y="1233">4.7k</text>
<text x="267" y="1242">RP11</text><text x="310" y="1242">RP100×4</text>
<text x="138" y="1251">I²C-SDA</text><text x="138" y="1262">I²C-SCL</text><text x="138" y="1272">TXD</text><text x="138" y="1283">RXD</text>
<text x="230" y="1272">DDC-TXD</text><text x="230" y="1283">DDC-RDX</text><text x="311" y="1294">KEY0</text><text x="311" y="1304">KEY1</text>
<text x="96" y="1277">TXD</text><text x="96" y="1288">RXD</text>
<path class="ln" stroke-width="0.8" d="M118 1270L113 1274L118 1278 M122 1270L117 1274L122 1278 M118 1281L113 1285L118 1289 M122 1281L117 1285L122 1289"/>
<path class="ln" d="M460 1317H542 M448 1328H545 M438 1338H545 M428 1349H545 M483 1235H530"/>
<path class="ln" stroke-width="0.8" d="M540 1313L545 1317L540 1321 M544 1313L549 1317L544 1321"/>
<text x="475" y="1315">ADJ-PWM3</text><text x="475" y="1326">PWM2</text><text x="475" y="1336">PWM1/WP_FSH</text><text x="475" y="1347">PWM0</text><text x="555" y="1320">ADJ-PWM3</text>
<circle cx="483" cy="1235" r="2" class="dot"/><text x="492" y="1232">IR_SYNC</text>
<path class="ln" d="M476 1252H490 M483 1252L476 1266L490 1266Z M476 1280H490 M483 1280L476 1266 M483 1280L490 1266 M476 1300H490"/>
<text x="500" y="1260">D120</text><text x="500" y="1270">INPAQ_VPORT</text>

<g class="bx"><rect x="895" y="1297" width="18" height="6"/><rect x="895" y="1308" width="18" height="6"/><rect x="895" y="1319" width="18" height="6"/><rect x="895" y="1329" width="18" height="6"/><rect x="895" y="1340" width="18" height="6"/><rect x="895" y="1351" width="18" height="6"/><rect x="895" y="1361" width="18" height="6"/><rect x="895" y="1371" width="18" height="6"/></g>
<path class="ln" d="M852 1311H895 M913 1311H1125 M842 1322H895 M913 1322H1125 M832 1332H895 M913 1332H1125 M822 1343H895 M913 1343H1058 M813 1354H895 M913 1354H1125 M803 1364H895 M913 1364H1125 M795 1374H895 M913 1374H1125 M880 1300H895 M913 1300H935"/>
<text x="860" y="1298">RP9</text><text x="930" y="1296">RP100×4</text><text x="860" y="1342">RP7</text><text x="930" y="1341">RP100×4</text>
<text x="935" y="1309">POWER-ON/OFF</text><text x="935" y="1320">ON-PBACK</text><text x="935" y="1330">HPDCTRL</text><text x="935" y="1352">PANEL-ON/OFF</text><text x="935" y="1362">USB-PW</text><text x="935" y="1372">WP</text>
<text x="1021" y="1212">VDDP</text><circle cx="1027" cy="1220" r="3" class="bx"/>
<text x="1097" y="1224">5Vstb</text><circle cx="1105" cy="1232" r="3" class="bx"/>
<path class="ln" d="M1027 1223V1374 M1027 1240H1058 M1036 1240V1364 M1047 1240V1354 M1058 1240V1343 M1105 1235V1332 M1073 1240H1105 M1073 1240V1295 M1084 1240V1311 M1094 1240V1322"/>
<g class="bx"><rect x="1023" y="1255" width="8" height="20"/><rect x="1032" y="1255" width="8" height="20"/><rect x="1043" y="1255" width="8" height="20"/><rect x="1054" y="1255" width="8" height="20"/><rect x="1069" y="1255" width="8" height="20"/><rect x="1080" y="1255" width="8" height="20"/><rect x="1090" y="1255" width="8" height="20"/><rect x="1101" y="1255" width="8" height="20"/></g>
<g class="dot"><circle cx="1027" cy="1374" r="2"/><circle cx="1036" cy="1364" r="2"/><circle cx="1047" cy="1354" r="2"/><circle cx="1058" cy="1343" r="2"/><circle cx="1084" cy="1311" r="2"/><circle cx="1094" cy="1322" r="2"/><circle cx="1105" cy="1332" r="2"/><circle cx="1036" cy="1240" r="2"/><circle cx="1047" cy="1240" r="2"/><circle cx="1084" cy="1240" r="2"/><circle cx="1094" cy="1240" r="2"/><circle cx="1105" cy="1240" r="2"/></g>
<text transform="translate(1005,1272) rotate(-90)">RP6</text><text transform="translate(1017,1285) rotate(-90)">RP4.7k×4</text>
<text transform="translate(1122,1260) rotate(-90)">RP5</text><text transform="translate(1134,1285) rotate(-90)">RP4.7k×4</text>
<path class="ln" stroke-width="0.8" d="M1125 1307L1130 1311L1125 1315 M1129 1307L1134 1311L1129 1315 M1125 1318L1130 1322L1125 1326 M1129 1318L1134 1322L1129 1326 M1125 1328L1130 1332L1125 1336 M1129 1328L1134 1332L1129 1336 M1134 1350L1129 1354L1134 1358 M1138 1350L1133 1354L1138 1358 M1134 1360L1129 1364L1134 1368 M1138 1360L1133 1364L1138 1368 M1134 1370L1129 1374L1134 1378 M1138 1370L1133 1374L1138 1378"/>
<text x="1138" y="1314">POWER-ON/OFF</text><text x="1138" y="1325">ON-PBACK</text><text x="1138" y="1335">HPDCTRL</text><text x="1141" y="1357">PANEL-ON/OFF</text><text x="1141" y="1367">USB-PW</text><text x="1141" y="1377">WP</text>

<path d="M1075 1393V1420H1092L1094 1424L1096 1420H1112V1393H1095V1416H1093V1393Z" fill="none" stroke="#5aa0d8" stroke-width="2"/>
<text x="1114" y="1408" style="font-family:'Noto Sans CJK SC',sans-serif;font-size:17.5px;fill:#4a8fcf;">家电维修资料网</text>
<text x="1117" y="1428" style="font-family:'Liberation Mono',monospace;font-size:8.5px;fill:#7a9fc4;letter-spacing:1.5px;">www.520101.com</text>
</svg>

<div class="title">MST9E19A</div>
<div class="cn" style="left:470px;top:62px;">Q7、C14 等元件组成复位电路，</div>
<div class="cn" style="left:470px;top:91px;">为芯片提供复位电压。</div>
<div class="cn" style="left:25px;top:200px;">Y2、C53、C58 与</div>
<div class="cn" style="left:25px;top:228px;">芯片内部部分电</div>
<div class="cn" style="left:25px;top:256px;">路共同组成时钟</div>
<div class="cn" style="left:25px;top:284px;">振荡电路。</div>

<div class="para" style="top:572px;left:424px;width:598px;"><b style="font-family:'Liberation Sans','Noto Sans CJK SC',sans-serif;">关键引脚检修提示</b>：<span class="c">1</span>~<span class="c">11</span>脚：DVI 数字视频信号输入。<span class="c">14</span>、<span class="c">15</span>脚：第</div>
<div class="para" style="top:600px;">三组总线接口，外挂 DVI 数据存储器。<span class="c">16</span>、<span class="c">17</span>脚：VGA 行场同步信号输</div>
<div class="para" style="top:627px;">入。<span class="c">22</span>~<span class="c">28</span>脚：VGA-RGB 信号输入。<span class="c">29</span>~<span class="c">35</span>脚：USB 读卡器的 YPbPr 格</div>
<div class="para" style="top:655px;">式图像信号和 SCART-RGB 图像信号输入。<span class="c">42</span>~<span class="c">44</span>脚：YC 图像信号输</div>
<div class="para" style="top:683px;">入。<span class="c">46</span>、<span class="c">47</span>、<span class="c">49</span>、<span class="c">50</span>脚：视频信号输入。<span class="c">51</span>脚：视频信号输出。<span class="c">61</span>~<span class="c">64</span>、<span class="c">66</span>~<span class="c">69</span></div>
<div class="para" style="top:711px;">脚：音频信号信号输入。分别来自不同工作状态下的音频输入接口和</div>
<div class="para" style="top:739px;">TV 状态下的图像中频信号处理电路(TDA9885)。<span class="c">72</span>、<span class="c">73</span>脚：音频信号输</div>
<div class="para" style="top:766px;">出，输出的音频信号送往 U20(BA4558)，放大后输往音频输出接口。</div>
<div class="para" style="top:794px;"><span class="c">74</span>、<span class="c">75</span>脚：音频信号输出，输出的音频信号经 U22 处理后送往伴音功</div>
<div class="para" style="top:822px;">放。<span class="c">108</span>：USB 与 SCART 信号切换控制输出，送往 U14。<span class="c">109</span>、<span class="c">110</span>脚：第二组</div>
<div class="para" style="top:850px;">总线接口，外挂高频调谐器和中频信号处理集成块 TDA9885。<span class="c">111</span>脚：静</div>
<div class="para" style="top:878px;">音控制输出。<span class="c">113</span>、<span class="c">114</span>脚：指示灯驱动，部分机芯未用。<span class="c">121</span>、<span class="c">124</span>脚：外挂 U9</div>
<div class="para" style="top:905px;">(FLASH)。<span class="c">131</span>、<span class="c">132</span>脚：第一组总线信号接口，外挂用户存储器 U10 和数</div>
<div class="para" style="top:933px;">据存储器 U11。<span class="c">146</span>脚：上屏供电电压形成电路工作状态控制，输往 Q31</div>
<div class="para" style="top:961px;">的基极。<span class="c">149</span>脚：背光灯驱动电路启动控制电压输出，输往背光灯驱动电</div>
<div class="para" style="top:989px;">路。<span class="c">150</span>脚：开/待机控制，输往开关电源。<span class="c">156</span>脚：背光灯调光控制。<span class="c">162</span>、<span class="c">171</span></div>
<div class="para" style="top:1016px;">脚：LVDS 信号输出，输出的信号通过上屏线送往液晶屏上的逻辑板。</div>
<div class="para last" style="top:1044px;"><span class="c">225</span>、<span class="c">226</span>脚：本机键控电压输入，接本机控制键。</div>
</div></body></html>
